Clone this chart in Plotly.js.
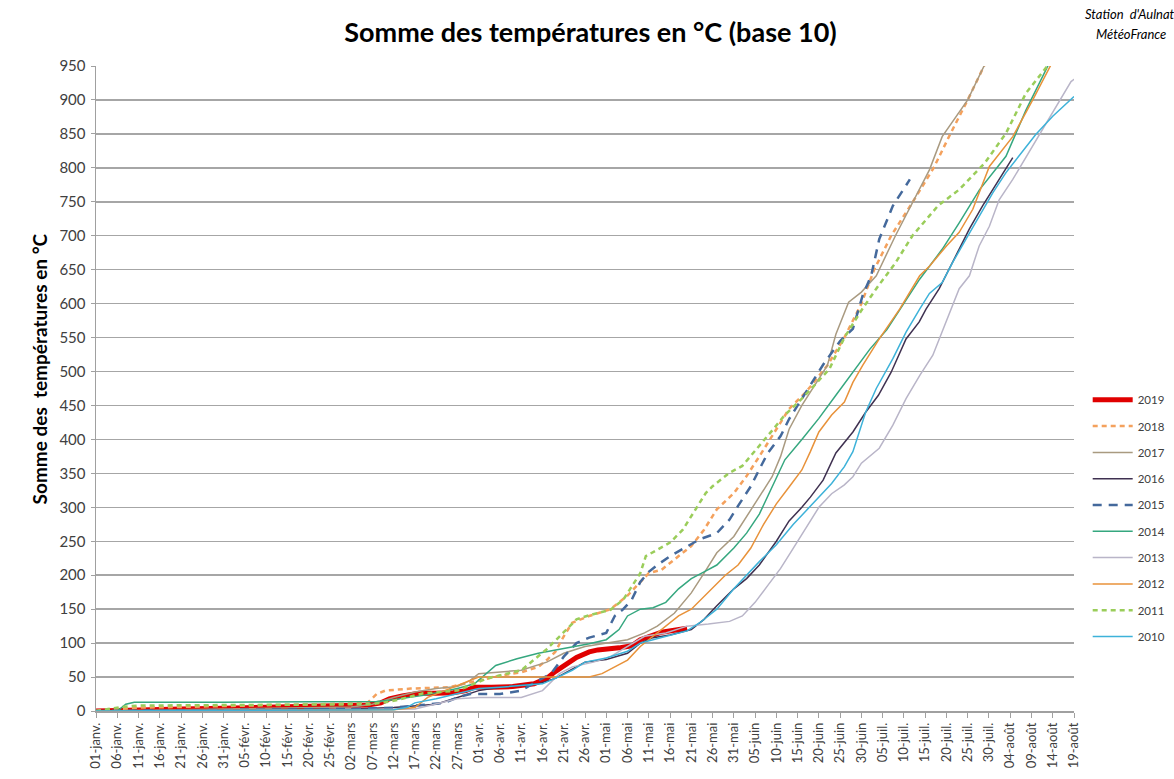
<!DOCTYPE html>
<html>
<head>
<meta charset="utf-8">
<script src="https://cdn.plot.ly/plotly-3.0.1.min.js"></script>
<style>
html,body{margin:0;padding:0;background:#fff;}
#chart{width:1174px;height:779px;}
</style>
</head>
<body>
<div id="chart"></div>
<script>
// X tick labels (every 5 days from 01-janv.)
const tickLabels = ["01-janv.","06-janv.","11-janv.","16-janv.","21-janv.","26-janv.","31-janv.",
  "05-févr.","10-févr.","15-févr.","20-févr.","25-févr.",
  "02-mars","07-mars","12-mars","17-mars","22-mars","27-mars",
  "01-avr.","06-avr.","11-avr.","16-avr.","21-avr.","26-avr.",
  "01-mai","06-mai","11-mai","16-mai","21-mai","26-mai","31-mai",
  "05-juin","10-juin","15-juin","20-juin","25-juin","30-juin",
  "05-juil.","10-juil.","15-juil.","20-juil.","25-juil.","30-juil.",
  "04-août","09-août","14-août","19-août"];
const tickDays = tickLabels.map((_, i) => i * 5);

const years = ["2019","2018","2017","2016","2015","2014","2013","2012","2011","2010"];

// Day index (0 = 01-janv.) and cumulative degree-days (base 10)
const days2019 = [0,5,10,20,30,40,50,55,60,64,67,69,72,74,76,80,84,87,89,93,98,103,106,108,110,113,116,118,123,126,128,130,133,136,139];
const vals2019 = [0,1,2,3,4,5,6,8,8,9,12,18,22,24,26,26,27,30,35,35,36,40,48,58,67,79,87,90,93,96,105,110,116,119,122];

const days2018 = [0,5,10,20,30,40,50,60,64,66,68,74,83,89,95,100,104,106,108,110,112,116,121,125,128,130,133,136,140,143,146,150,153,156,159,161,163,167,172,176,180,183,187,192,197,201,205,209];
const vals2018 = [0,3,5,6,7,8,9,11,13,25,30,33,35,43,52,57,65,75,87,110,130,140,150,170,190,203,208,223,243,267,297,321,346,375,405,424,445,470,509,550,600,650,700,749,800,851,900,952];

const days2017 = [0,10,20,30,40,50,60,65,70,75,80,85,88,90,95,100,106,110,115,120,125,129,132,136,140,143,146,150,153,156,159,161,163,166,170,172,174,177,180,183.5,188,192,196,199,205,209];
const vals2017 = [0,1,2,3,3,4,6,10,20,28,33,36,45,55,58,60,72,85,95,100,105,115,125,144,174,203,233,257,287,316,345,375,415,450,489,509,555,602,617,641,700,749,797,846,900,952];

const days2016 = [0,20,40,60,70,80,85,90,95,100,104,108,112,115,120,125,128,131,135,140,143,146,150,153,156,160,163,166,168,171,174,178,181,184,187,190.5,193.6,195.2,198.3,201.5,205.4,208.5,212.5,215.6];
const vals2016 = [0,1,2,3,5,10,20,30,35,38,40,48,62,72,76,85,100,108,112,120,135,155,180,195,215,250,280,300,315,340,380,411,440,465,499,548,573,592,622,661,710,744,783,815];

const days2015 = [0,20,40,60,70,78,82,85,88,95,100,104,107,110,113,116,120,122,124,126,128,130,132,135,139,142,146,149,151,154,156,158,161,163,167,171,175,178,180.3,182.3,184.2,187.4,191.4];
const vals2015 = [0,1,2,3,5,10,12,20,25,25,30,45,55,80,100,108,115,140,150,164,190,205,215,228,243,253,262,282,302,331,356,380,405,430,470,510,545,563,612,641,695,744,783];

const days2014 = [0,5,7,9,30,50,66,69,77,85,89,94,99,104,110,116,120,123,125,128,131,134,137,140,143,146,150,153,156,159,162,166,170,174,178,182,186,190.5,193.7,199,203,207.8,214,218.7,224];
const vals2014 = [0,0,10,13,13,14,14,16,23,33,40,67,77,85,92,99,105,120,140,150,152,160,180,195,205,215,240,262,290,330,370,400,431,465,499,533,562,606,636,680,719,768,817,885,952];

const days2013 = [0,40,60,75,80,85,90,100,105,109,112,117,121,125,129,134,139,144,149,152,155,158,161,164,167,170,173,176,178,180,184.2,187.4,190.5,193.7,196.8,199.9,203,205.4,207.7,210.1,212.4,215.6,222,229.3,231];
const vals2013 = [0,1,2,3,10,18,20,20,30,55,65,72,80,95,110,115,125,128,132,140,160,185,210,240,270,300,320,333,345,365,387,421,460,494,524,573,622,641,685,714,753,783,850,927,935];

const days2012 = [0,40,70,75,78,82,86,90,100,110,116,119,122,125,128,131,134,137,140,144,148,151,154,157,160,163,166,168,170,173,176,178,180.3,184.2,189,193.7,196,200,203,206.2,210.1,215.6,220.3,224.6];
const vals2012 = [0,1,2,5,20,30,40,50,50,50,50,55,65,75,95,110,125,140,150,175,200,215,240,275,305,330,355,382,411,436,455,484,509,548,592,641,655,685,705,739,802,846,900,952];

const days2011 = [0,3,6,10,30,50,65,70,77,85,92,100,106,110,113,116,121,124,126,128,129.3,132,135,138,141,143.4,145,147,149,152,156,159,162,166,169,172.5,176,180,183.5,188,192,198,203,209,214,218.7,224];
const vals2011 = [0,3,6,8,9,10,10,15,26,30,48,60,91,116,135,141,149,164,184,203,228,238,248,267,297,321,331,341,351,361,390,413,436,460,480,504,550,590,622,660,700,744,768,807,851,910,952];

const days2010 = [0,40,70,73,75,80,85,90,95,100,105,108,112,115,120,125,128,131,135,139,142,146,150,153,156,160,164,167,170,173,176,178,181,183.5,187.4,190.5,193.7,196,199,201.5,204.6,207.7,210.9,214,217,221,225,230];
const vals2010 = [0,1,2,5,12,18,25,33,35,38,40,48,60,72,78,88,100,105,112,118,130,150,180,200,220,245,275,295,315,335,360,382,440,475,519,558,592,615,631,661,695,729,763,793,817,849,876,905];

const seriesDays = [days2019,days2018,days2017,days2016,days2015,days2014,days2013,days2012,days2011,days2010];
const seriesVals = [vals2019,vals2018,vals2017,vals2016,vals2015,vals2014,vals2013,vals2012,vals2011,vals2010];

const styles = [
  {color:"#e00000", width:5, dash:"solid"},
  {color:"#f4a15d", width:2.5, dash:"5px,4px"},
  {color:"#a99a80", width:1.5, dash:"solid"},
  {color:"#3f3151", width:1.5, dash:"solid"},
  {color:"#44699c", width:2.5, dash:"9px,7px"},
  {color:"#35a77f", width:1.5, dash:"solid"},
  {color:"#b9b5c8", width:1.5, dash:"solid"},
  {color:"#e8923a", width:1.5, dash:"solid"},
  {color:"#9acd5a", width:2.5, dash:"5px,4px"},
  {color:"#3db2d9", width:1.5, dash:"solid"}
];

const traces = years.map((y, i) => ({
  type: "scatter",
  mode: "lines",
  name: y,
  x: seriesDays[i],
  y: seriesVals[i],
  line: Object.assign({shape: "linear"}, styles[i]),
  legendgroup: "g" + y,
  hoverinfo: "x+y+name"
}));

const fontMain = "Lato, 'Open Sans', 'Liberation Sans', sans-serif";

const layout = {
  width: 1174,
  height: 779,
  margin: {l: 96, r: 100, t: 66, b: 68, autoexpand: false},
  paper_bgcolor: "#ffffff",
  plot_bgcolor: "#ffffff",
  font: {family: fontMain, color: "#404040", size: 12},
  title: {
    text: "<b>Somme des températures en °C (base 10)</b>",
    font: {family: fontMain, size: 27, color: "#000000"},
    x: 0.503, xanchor: "center", y: 0.958, yanchor: "middle"
  },
  showlegend: true,
  legend: {
    x: 1.014, xanchor: "left",
    y: 0.505, yanchor: "top",
    font: {family: fontMain, size: 11.5, color: "#404040"},
    tracegroupgap: 7.3,
    itemwidth: 40,
    bgcolor: "rgba(255,255,255,0)"
  },
  xaxis: {
    range: [0, 230],
    tickmode: "array",
    tickvals: tickDays,
    ticktext: tickLabels,
    tickangle: -90,
    tickfont: {family: fontMain, size: 13, color: "#404040"},
    showgrid: false,
    zeroline: false,
    showline: true,
    linecolor: "#a0a0a0",
    linewidth: 1.5,
    ticks: "outside",
    ticklen: 5,
    tickcolor: "#a0a0a0",
    fixedrange: true
  },
  yaxis: {
    range: [0, 950],
    dtick: 50,
    tick0: 0,
    tickfont: {family: fontMain, size: 15, color: "#404040"},
    showgrid: true,
    gridcolor: "#a6a6a6",
    gridwidth: 1.5,
    zeroline: false,
    showline: true,
    linecolor: "#a0a0a0",
    linewidth: 1.5,
    ticks: "outside",
    ticklen: 4,
    tickcolor: "#a0a0a0",
    ticklabelstandoff: 2,
    fixedrange: true
  },
  annotations: [
    {
      text: "<b>Somme des  températures en °C</b>",
      xref: "paper", yref: "paper",
      x: -0.058, y: 0.53,
      xanchor: "center", yanchor: "middle",
      textangle: -90, showarrow: false,
      font: {family: fontMain, size: 19, color: "#000000"}
    },
    {
      text: "<i>Station  d'Aulnat</i>",
      xref: "paper", yref: "paper",
      x: 1.0, y: 1.08, xanchor: "left", yanchor: "middle",
      xshift: 9,
      showarrow: false,
      font: {family: fontMain, size: 13, color: "#000000"}
    },
    {
      text: "<i>MétéoFrance</i>",
      xref: "paper", yref: "paper",
      x: 1.0, y: 1.05, xanchor: "left", yanchor: "middle",
      xshift: 20,
      showarrow: false,
      font: {family: fontMain, size: 13, color: "#000000"}
    }
  ]
};

Plotly.newPlot("chart", traces, layout, {displayModeBar: false, staticPlot: true});
</script>
</body>
</html>
